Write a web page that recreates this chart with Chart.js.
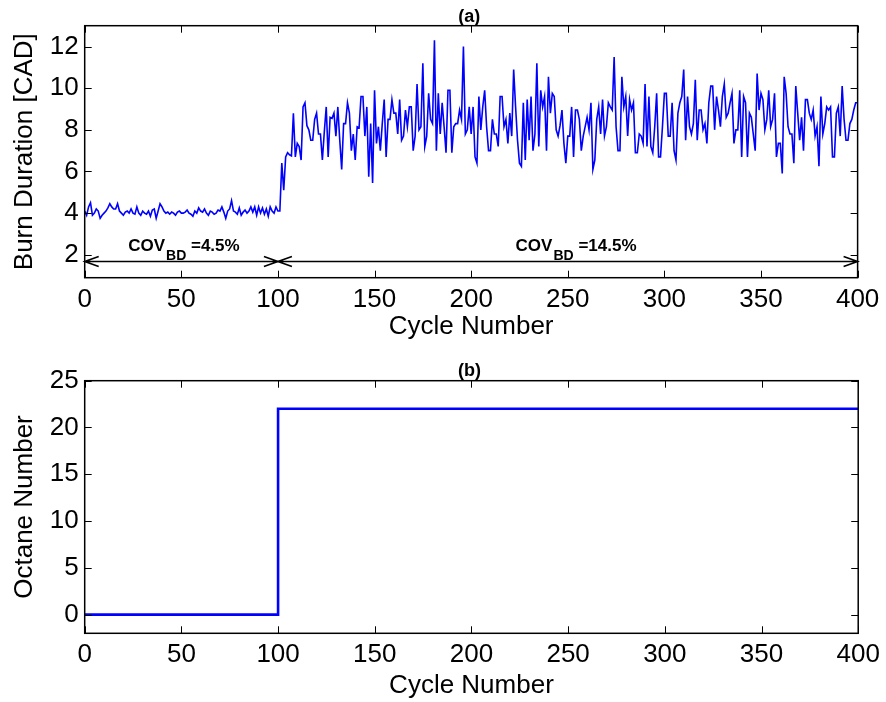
<!DOCTYPE html>
<html><head><meta charset="utf-8">
<script src="https://cdn.jsdelivr.net/npm/chart.js@4.4.0/dist/chart.umd.min.js"></script>
<style>
html,body{margin:0;padding:0;background:#fff;}
#wrap{position:relative;width:886px;height:702px;background:#fff;}
.box{position:absolute;left:0;width:886px;height:351px;}
</style></head><body>
<div id="wrap">
<div class="box" style="top:0"><canvas id="c1" width="886" height="351"></canvas></div>
<div class="box" style="top:351px"><canvas id="c2" width="886" height="351"></canvas></div>
</div>
<script>
// ---- data ----
const burnDuration = [
 4.1,3.9,4.3,4.5,3.9,4.0,4.2,4.1,3.75,3.9,
 4.0,4.1,4.25,4.45,4.3,4.2,4.2,4.45,4.1,4.0,
 3.9,4.05,4.1,4.0,4.2,4.0,3.95,4.3,4.0,3.9,
 4.1,4.0,3.95,4.1,3.85,4.15,4.2,3.75,4.1,4.45,
 4.3,4.1,4.0,4.05,3.95,4.05,4.0,3.9,4.05,4.1,
 4.0,4.0,4.05,4.15,4.0,3.95,3.85,4.1,4.0,4.25,
 4.1,4.05,4.2,4.0,3.9,4.1,4.05,3.95,4.0,4.15,
 4.1,4.3,4.05,3.75,4.1,4.2,4.6,4.1,4.05,3.95,
 4.25,3.9,4.05,4.15,4.0,4.1,4.3,4.05,4.3,3.9,
 4.3,4.0,4.25,3.95,4.2,3.85,4.3,4.1,4.0,4.3,
 4.1,
 4.1,6.4,5.1,6.7,6.9,6.8,6.75,8.8,6.7,7.35,
 7.2,6.55,9.1,9.3,8.2,8.0,7.5,7.5,8.5,8.8,
 7.8,7.8,6.55,7.9,9.1,6.7,8.6,8.55,8.8,7.7,
 9.1,7.5,6.1,8.3,8.3,9.3,8.8,7.0,7.8,6.55,
 8.15,8.1,9.6,9.6,7.7,9.1,5.75,8.3,5.45,9.9,
 7.35,8.15,7.0,8.3,9.45,6.7,8.5,8.5,9.45,8.8,
 8.8,7.8,9.45,7.5,7.7,8.95,8.15,9.1,9.1,7.0,
 7.7,10.2,8.0,8.15,11.2,7.2,7.7,9.75,8.5,8.3,
 12.3,7.0,9.75,7.8,9.3,8.15,6.9,9.9,9.9,6.9,
 8.15,8.3,8.3,8.95,8.5,12.0,7.8,8.0,9.1,7.8,
 9.1,6.7,6.4,9.6,8.0,9.1,9.9,8.15,7.0,7.0,
 8.5,7.8,7.8,7.2,9.6,9.6,8.15,8.5,7.35,8.8,
 7.7,10.9,9.1,7.5,6.4,6.25,9.3,6.55,9.45,7.5,
 9.6,7.0,7.8,11.2,7.2,9.9,9.1,9.6,7.0,10.55,
 8.8,9.75,9.6,8.0,7.7,8.2,8.95,7.35,6.4,7.7,
 7.7,9.1,6.7,8.95,8.95,8.5,7.0,7.7,8.15,8.6,
 8.0,9.3,6.1,6.55,8.5,9.1,7.8,9.45,7.7,8.15,
 9.3,9.1,8.95,11.5,8.15,7.0,7.0,10.55,9.1,9.6,
 7.7,9.45,8.95,9.3,6.9,6.9,7.8,7.7,7.35,10.2,
 7.2,9.6,7.2,6.9,8.15,9.75,6.7,6.7,8.15,9.75,
 9.75,7.7,7.7,9.3,7.0,6.55,8.8,9.3,9.6,10.9,
 7.5,9.6,8.15,7.8,8.3,10.4,7.5,8.95,8.95,8.0,
 8.3,7.35,9.3,10.1,10.1,8.0,9.6,8.95,8.15,9.6,
 10.2,8.6,8.8,9.3,9.75,7.35,8.0,8.0,9.9,6.7,
 9.6,9.3,6.7,8.8,8.6,7.8,7.0,10.7,8.95,9.75,
 9.45,8.0,8.5,9.9,8.15,8.5,9.75,6.7,7.35,7.35,
 5.9,10.55,9.75,8.15,7.8,7.8,6.4,10.1,8.8,7.5,
 8.6,7.0,9.45,9.45,8.8,8.5,8.95,7.7,8.15,6.25,
 9.6,7.8,8.3,9.1,8.95,9.1,6.7,6.7,8.8,9.1,
 7.7,10.1,8.5,7.5,7.5,8.3,8.5,8.95,9.3,9.3
];
const cycleNumbers = burnDuration.map((_, i) => i);
const octaneCycle = [0, 100, 100, 400];
const octaneValue = [0, 0, 22, 22];
const cycleTicks = [0, 50, 100, 150, 200, 250, 300, 350, 400];
const burnTicks = [2, 4, 6, 8, 10, 12];
const octaneTicks = [0, 5, 10, 15, 20, 25];
const covSegments = [[0, 100], [100, 400]];
const covValues = ['=4.5%', '=14.5%'];
const panelTitles = ['(a)', '(b)'];
const axisTitles = {x: 'Cycle Number', burn: 'Burn Duration [CAD]', octane: 'Octane Number'};

// ---- drawing ----
const FONT = '"Liberation Sans", Arial, Helvetica, sans-serif';
const FS = 26;

const framePlugin = {
  id: 'frame',
  afterDraw(chart, args, opts) {
    const {ctx, chartArea: a, scales: {x, y}} = chart;
    ctx.save();
    ctx.strokeStyle = '#000';
    ctx.lineWidth = 1;
    ctx.beginPath();
    x.ticks.forEach(t => {
      const px = Math.round(x.getPixelForValue(t.value)) + 0.5;
      ctx.moveTo(px, a.bottom); ctx.lineTo(px, a.bottom - 7);
      ctx.moveTo(px, a.top); ctx.lineTo(px, a.top + 7);
    });
    y.ticks.forEach(t => {
      const py = Math.round(y.getPixelForValue(t.value)) + 0.5;
      ctx.moveTo(a.left, py); ctx.lineTo(a.left + 7, py);
      ctx.moveTo(a.right, py); ctx.lineTo(a.right - 7, py);
    });
    ctx.stroke();
    ctx.lineWidth = 1.5;
    ctx.strokeRect(a.left, a.top, a.right - a.left, a.bottom - a.top);
    ctx.fillStyle = '#000';
    ctx.font = 'bold 18px ' + FONT;
    ctx.textAlign = 'center';
    ctx.textBaseline = 'alphabetic';
    ctx.fillText(opts.title, (a.left + a.right) / 2 - 2, opts.titleBaseline);
    ctx.restore();
  }
};

const covPlugin = {
  id: 'cov',
  afterDatasetsDraw(chart, args, opts) {
    if (!opts || !opts.enabled) return;
    const {ctx, scales: {x, y}} = chart;
    const py = y.getPixelForValue(opts.level);
    ctx.save();
    ctx.strokeStyle = '#000';
    ctx.fillStyle = '#000';
    ctx.lineWidth = 1.6;
    covSegments.forEach(([s, e], i) => {
      const x0 = x.getPixelForValue(s), x1 = x.getPixelForValue(e);
      ctx.beginPath();
      ctx.moveTo(x0, py); ctx.lineTo(x1, py);
      ctx.moveTo(x0 + 14, py - 5); ctx.lineTo(x0, py); ctx.lineTo(x0 + 14, py + 5);
      ctx.moveTo(x1 - 14, py - 5); ctx.lineTo(x1, py); ctx.lineTo(x1 - 14, py + 5);
      ctx.stroke();
      let tx = x.getPixelForValue(opts.labelStart[i]);
      const ty = py - 10;
      ctx.textAlign = 'left';
      ctx.textBaseline = 'alphabetic';
      ctx.font = 'bold 17px ' + FONT;
      ctx.fillText('COV', tx, ty);
      tx += ctx.measureText('COV').width + 1;
      ctx.font = 'bold 14px ' + FONT;
      ctx.fillText('BD', tx, ty + 8.3);
      tx += ctx.measureText('BD').width;
      ctx.font = 'bold 17px ' + FONT;
      ctx.fillText(' ' + covValues[i], tx, ty);
    });
    ctx.restore();
  }
};

function makeChart(id, cfg) {
  return new Chart(document.getElementById(id), {
    type: 'line',
    data: {
      datasets: [{
        data: cfg.xs.map((c, i) => ({x: c, y: cfg.ys[i]})),
        borderColor: '#0000ff',
        borderWidth: cfg.lineWidth,
        pointRadius: 0,
        tension: 0,
        fill: false
      }]
    },
    options: {
      responsive: false,
      animation: false,
      events: [],
      layout: {padding: {left: 0, right: 886 - 859.4, top: cfg.top, bottom: 0}},
      plugins: {
        legend: {display: false},
        tooltip: {enabled: false},
        frame: {title: cfg.title, titleBaseline: cfg.titleBaseline},
        cov: cfg.cov || {enabled: false}
      },
      scales: {
        x: {
          type: 'linear', min: 0, max: 400,
          afterBuildTicks: s => { s.ticks = cycleTicks.map(v => ({value: v})); },
          afterFit: s => { s.height = 351 - cfg.bottom; },
          grid: {display: false, drawTicks: false},
          border: {display: false},
          ticks: {color: '#000', font: {family: FONT, size: FS}, padding: cfg.xTickPad, maxRotation: 0, autoSkip: false},
          title: {display: true, text: axisTitles.x, color: '#000', font: {family: FONT, size: FS}, padding: {top: 0, bottom: cfg.xTitlePad}}
        },
        y: {
          type: 'linear', min: cfg.yMin, max: cfg.yMax,
          afterBuildTicks: s => { s.ticks = cfg.yTicks.map(v => ({value: v})); },
          afterFit: s => { s.width = 84.7; },
          grid: {display: false, drawTicks: false},
          border: {display: false},
          ticks: {color: '#000', font: {family: FONT, size: FS}, padding: 6, autoSkip: false},
          title: {display: true, text: cfg.yTitle, color: '#000', font: {family: FONT, size: FS}, padding: {top: 9.4, bottom: 0}}
        }
      }
    },
    plugins: [framePlugin, covPlugin]
  });
}

makeChart('c1', {
  xs: cycleNumbers, ys: burnDuration, lineWidth: 1.6,
  yMin: 0.9, yMax: 13, yTicks: burnTicks, yTitle: axisTitles.burn,
  top: 25.7, bottom: 277.7, xTickPad: 6.7, xTitlePad: 8.4,
  title: panelTitles[0], titleBaseline: 21.5,
  cov: {enabled: true, level: 1.68, labelStart: [22.5, 223]}
});

makeChart('c2', {
  xs: octaneCycle, ys: octaneValue, lineWidth: 2.6,
  yMin: -2, yMax: 25, yTicks: octaneTicks, yTitle: axisTitles.octane,
  top: 29.7, bottom: 282.3, xTickPad: 6.1, xTitlePad: 0.4,
  title: panelTitles[1], titleBaseline: 24.5
});
</script>
</body></html>
